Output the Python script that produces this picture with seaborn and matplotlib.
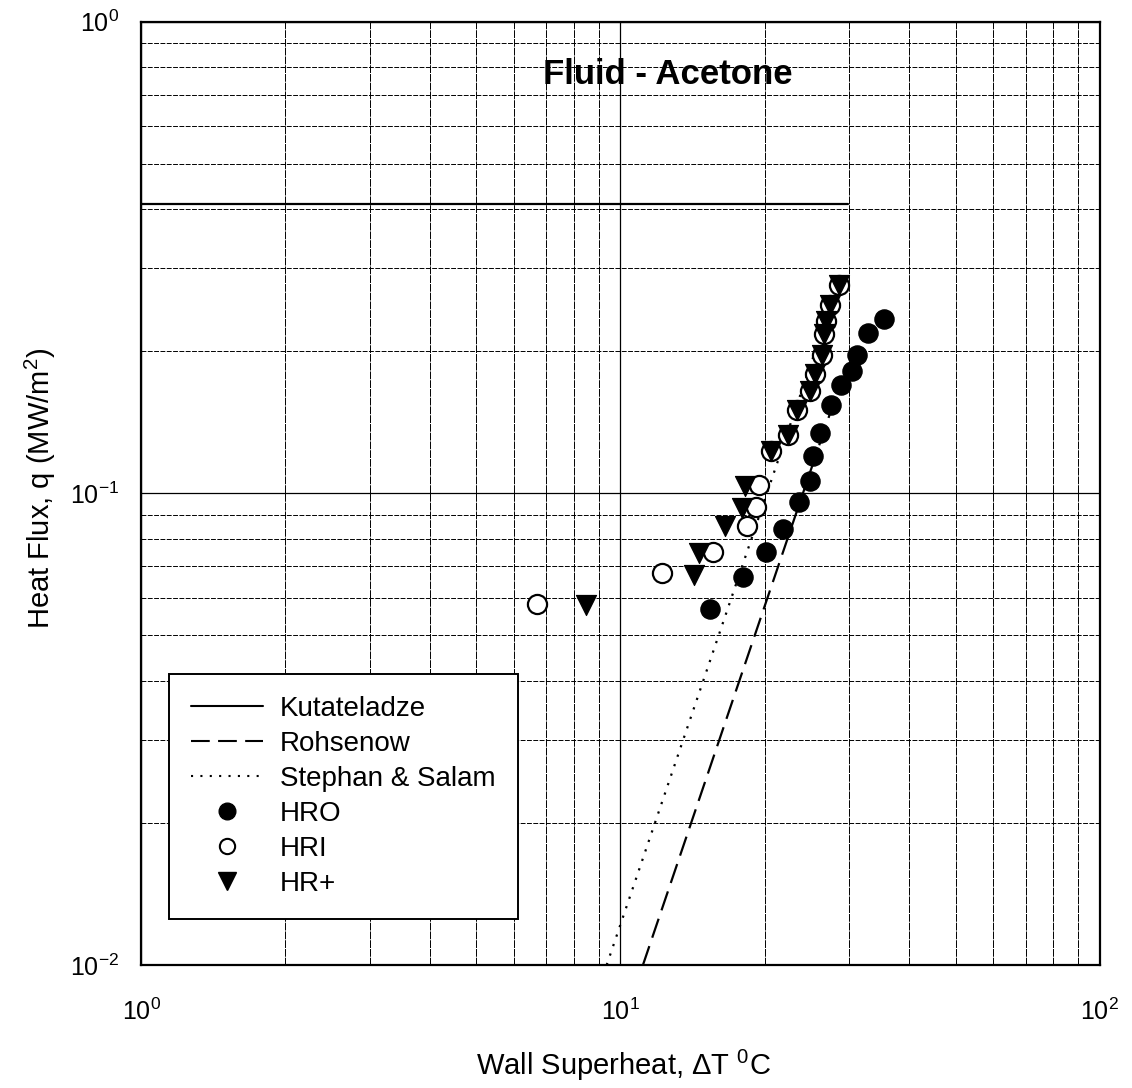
import numpy as np
import pandas as pd
import matplotlib
matplotlib.use("Agg")
import matplotlib.pyplot as plt
import seaborn as sns
from matplotlib.ticker import LogLocator, NullFormatter
from matplotlib.lines import Line2D

# ---------------- data ----------------
hro_dT = [15.4, 18.0, 20.1, 21.8, 23.6, 24.9, 25.2, 26.1, 27.5, 28.9, 30.4, 31.2, 32.9, 35.4]
hro_q  = [0.057, 0.0666, 0.075, 0.084, 0.096, 0.106, 0.120, 0.134, 0.154, 0.170, 0.182, 0.197, 0.219, 0.234]

hri_dT = [6.69, 12.2, 15.6, 18.4, 19.2, 19.5, 20.6, 22.4, 23.4, 24.9, 25.5, 26.3, 26.6, 26.9, 27.3, 28.5]
hri_q  = [0.0584, 0.0677, 0.075, 0.0854, 0.0938, 0.104, 0.123, 0.133, 0.150, 0.165, 0.179, 0.197, 0.218, 0.232, 0.251, 0.277]

hrp_dT = [8.47, 14.25, 14.6, 16.5, 17.9, 18.2, 20.6, 22.4, 23.4, 24.9, 25.5, 26.3, 26.6, 26.9, 27.3, 28.5]
hrp_q  = [0.058, 0.0671, 0.0746, 0.0851, 0.093, 0.1035, 0.123, 0.133, 0.150, 0.165, 0.179, 0.197, 0.218, 0.232, 0.251, 0.277]

kut_dT = [1.0, 29.8]
kut_q  = [0.41, 0.41]

roh_dT = [11.14, 27.5]
roh_q  = [0.010, 0.150]

ss_dT = [9.36, 28.4]
ss_q  = [0.010, 0.277]

xlabel = "Wall Superheat, $\\Delta$T $^0$C"
ylabel = "Heat Flux, q (MW/m$^2$)"
title = "Fluid - Acetone"
legend_labels = ["Kutateladze", "Rohsenow", "Stephan & Salam", "HRO", "HRI", "HR+"]

# ---------------- style ----------------
sns.set_style("white")
plt.rcParams["font.family"] = ["Liberation Sans", "DejaVu Sans"]
plt.rcParams["mathtext.fontset"] = "custom"
plt.rcParams["mathtext.rm"] = "Liberation Sans"
plt.rcParams["mathtext.it"] = "Liberation Sans:italic"
plt.rcParams["mathtext.default"] = "regular"
plt.rcParams["text.color"] = "black"
plt.rcParams["axes.labelcolor"] = "black"
plt.rcParams["xtick.color"] = "black"
plt.rcParams["ytick.color"] = "black"

fig = plt.figure(figsize=(11.32, 10.88), dpi=100)
ax = fig.add_axes([0.1246, 0.113, 0.847, 0.867])

lines = pd.concat([
    pd.DataFrame({"dT": kut_dT, "q": kut_q, "corr": "Kutateladze"}),
    pd.DataFrame({"dT": roh_dT, "q": roh_q, "corr": "Rohsenow"}),
    pd.DataFrame({"dT": ss_dT, "q": ss_q, "corr": "Stephan & Salam"}),
])
sns.lineplot(data=lines, x="dT", y="q", style="corr",
             dashes={"Kutateladze": "", "Rohsenow": (9, 4), "Stephan & Salam": (1, 3.5)},
             color="black", linewidth=1.6, ax=ax, legend=False, sort=False,
             estimator=None, units="corr")

sns.scatterplot(x=hro_dT, y=hro_q, marker="o", s=190, color="black",
                edgecolor="black", linewidth=1.0, ax=ax, zorder=3)
sns.scatterplot(x=hri_dT, y=hri_q, marker="o", s=190, facecolor="white",
                edgecolor="black", linewidth=1.6, ax=ax, zorder=4)
sns.scatterplot(x=hrp_dT, y=hrp_q, marker="v", s=210, color="black",
                edgecolor="black", linewidth=0.8, ax=ax, zorder=5)

ax.set_xscale("log")
ax.set_yscale("log")
ax.set_xlim(1, 100)
ax.set_ylim(0.01, 1)

ax.xaxis.set_minor_locator(LogLocator(base=10, subs=np.arange(2, 10)))
ax.yaxis.set_minor_locator(LogLocator(base=10, subs=np.arange(2, 10)))
ax.xaxis.set_minor_formatter(NullFormatter())
ax.yaxis.set_minor_formatter(NullFormatter())

ax.grid(True, which="major", color="black", linewidth=0.9, linestyle="-")
ax.grid(True, which="minor", axis="x", color="black", linewidth=0.7, linestyle=(0, (8, 1)))
ax.grid(True, which="minor", axis="y", color="black", linewidth=0.7, linestyle=(0, (5, 1.5)))
ax.set_axisbelow(True)

for sp in ax.spines.values():
    sp.set_color("black")
    sp.set_linewidth(1.6)

ax.tick_params(axis="both", which="major", direction="inout", length=16, width=1.2,
               labelsize=18, colors="black")
ax.tick_params(axis="y", which="major", pad=8)
ax.tick_params(axis="x", which="major", pad=16)
ax.tick_params(axis="both", which="minor", direction="in", length=4, width=0.8)

ax.set_xlabel(xlabel, fontsize=21, color="black")
ax.xaxis.label.set_va("center")
ax.xaxis.set_label_coords(0.503, -0.106)
ax.set_ylabel(ylabel, fontsize=21, color="black")
ax.yaxis.label.set_va("center")
ax.yaxis.set_label_coords(-0.105, 0.505)

ax.text(0.5495, 0.944, title, transform=ax.transAxes, ha="center", va="center",
        fontsize=25, fontweight="bold", color="black")

handles = [
    Line2D([], [], color="black", lw=1.5, linestyle="-"),
    Line2D([], [], color="black", lw=1.5, dashes=(9, 4)),
    Line2D([], [], color="black", lw=1.5, dashes=(1, 3.5)),
    Line2D([], [], color="black", marker="o", linestyle="", markersize=12),
    Line2D([], [], color="black", marker="o", markerfacecolor="white", markeredgewidth=1.5,
           linestyle="", markersize=11),
    Line2D([], [], color="black", marker="v", linestyle="", markersize=13),
]
leg = ax.legend(handles, legend_labels, loc="lower left", bbox_to_anchor=(0.029, 0.049),
                fontsize=20, frameon=True, fancybox=False, handlelength=2.6,
                borderpad=0.8, labelspacing=0.32, handletextpad=0.6, borderaxespad=0,
                labelcolor="black")
leg.get_frame().set_edgecolor("black")
leg.get_frame().set_linewidth(1.4)
leg.get_frame().set_alpha(1)

fig.savefig("out.png", dpi=100)
